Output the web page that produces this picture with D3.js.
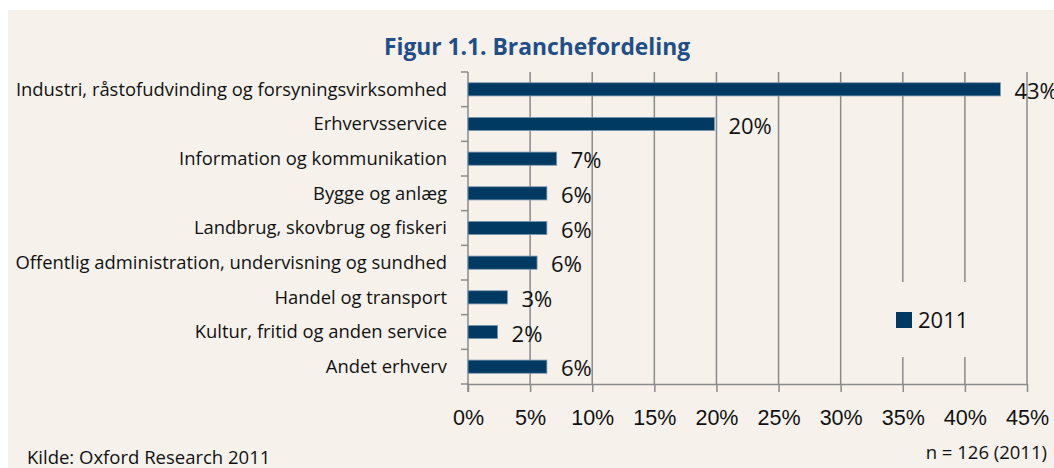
<!DOCTYPE html>
<html lang="da">
  <head>
    <meta charset="utf-8">
    <title>Figur 1.1. Branchefordeling</title>
    <script src="https://d3js.org/d3.v7.min.js"></script>
    <style type="text/css">
        html, body {
          margin: 0;
          padding: 0;
          background: #fff;
        }
        .chart svg {
            display: block;
            font-family: "Open Sans", "Noto Sans", sans-serif;
        }
        .title {
            font-weight: bold;
            fill: #1f4e88;
        }
        .axis path, .axis line, .grid line {
            stroke: #8a8a8a;
            stroke-width: 1.5;
        }
    </style>
  </head>
  <body>
    <div class="chart" id="chart"></div>

    <script>
        // data (n = 126)
        var categories = [
            "Industri, råstofudvinding og forsyningsvirksomhed",
            "Erhvervsservice",
            "Information og kommunikation",
            "Bygge og anlæg",
            "Landbrug, skovbrug og fiskeri",
            "Offentlig administration, undervisning og sundhed",
            "Handel og transport",
            "Kultur, fritid og anden service",
            "Andet erhverv"
        ];
        var values2011 = [42.86, 19.84, 7.14, 6.35, 6.35, 5.56, 3.17, 2.38, 6.35];
        var xTicks = [0, 5, 10, 15, 20, 25, 30, 35, 40, 45];
        var seriesName = "2011";

        var width = 1054, height = 468;
        var margin = {top: 72, right: 27, bottom: 84, left: 468};

        var svg = d3.select("#chart")
                    .append("svg")
                    .attr("width", width)
                    .attr("height", height);

        // beige panel
        svg.append("rect")
            .attr("x", 8).attr("y", 10)
            .attr("width", width - 8).attr("height", height - 10)
            .attr("fill", "#f6f1eb");

        svg.append("text")
            .attr("class", "title")
            .attr("x", 537).attr("y", 55)
            .attr("text-anchor", "middle")
            .style("font-size", "22.8px")
            .text("Figur 1.1. Branchefordeling");

        var x = d3.scaleLinear()
            .domain([0, 45])
            .range([margin.left, width - margin.right]);

        var y = d3.scaleBand()
            .domain(categories)
            .range([margin.top, height - margin.bottom])
            .paddingInner(0.62)
            .paddingOuter(0.31);

        // vertical grid
        svg.append("g")
            .attr("class", "grid")
            .selectAll("line")
            .data(xTicks.slice(1))
            .enter().append("line")
              .attr("x1", function(d) { return x(d); })
              .attr("x2", function(d) { return x(d); })
              .attr("y1", margin.top)
              .attr("y2", height - margin.bottom);

        // x axis
        var xAxis = svg.append("g")
            .attr("class", "axis")
            .attr("transform", "translate(0," + (height - margin.bottom) + ")")
            .call(d3.axisBottom(x)
                .tickValues(xTicks)
                .tickSize(8)
                .tickSizeOuter(0)
                .tickPadding(18)
                .tickFormat(function(d) { return d + "%"; }));
        xAxis.selectAll("text")
            .style("font-size", "21.5px")
            .attr("fill", "#111");

        // y axis: ticks sit on the band boundaries
        var plotH = height - margin.top - margin.bottom;
        var yAxis = svg.append("g").attr("class", "axis");
        yAxis.append("line")
            .attr("x1", margin.left).attr("x2", margin.left)
            .attr("y1", margin.top).attr("y2", height - margin.bottom + 8);
        yAxis.selectAll(".tick-mark")
            .data(d3.range(categories.length + 1))
            .enter().append("line")
              .attr("x1", margin.left - 7).attr("x2", margin.left)
              .attr("y1", function(i) { return margin.top + i * plotH / categories.length; })
              .attr("y2", function(i) { return margin.top + i * plotH / categories.length; });

        yAxis.selectAll(".cat")
            .data(categories)
            .enter().append("text")
              .attr("x", margin.left - 21)
              .attr("y", function(d) { return y(d) + y.bandwidth() / 2; })
              .attr("dy", "0.35em")
              .attr("text-anchor", "end")
              .attr("fill", "#111")
              .style("font-size", "18.4px")
              .text(function(d) { return d; });

        // legend box (hides the gridlines behind it)
        var legend = svg.append("g");
        legend.append("rect")
            .attr("x", 884).attr("y", 282)
            .attr("width", 130).attr("height", 75)
            .attr("fill", "#f6f1eb");
        legend.append("rect")
            .attr("x", 896).attr("y", 312)
            .attr("width", 16).attr("height", 16)
            .attr("fill", "#003a63");
        legend.append("text")
            .attr("x", 918).attr("y", 320)
            .attr("dy", "0.35em")
            .attr("fill", "#111")
            .style("font-size", "22px")
            .text(seriesName);

        // bars
        var rows = categories.map(function(c, i) { return {cat: c, value: values2011[i]}; });

        svg.append("g")
            .selectAll("rect")
            .data(rows)
            .enter().append("rect")
              .attr("x", x(0))
              .attr("y", function(d) { return y(d.cat); })
              .attr("width", function(d) { return x(d.value) - x(0); })
              .attr("height", y.bandwidth())
              .attr("fill", "#003a63")
              .attr("stroke", "#7d98b0")
              .attr("stroke-width", 0.8);

        svg.append("g")
            .selectAll("text")
            .data(rows)
            .enter().append("text")
              .attr("x", function(d) { return x(d.value) + 14; })
              .attr("y", function(d) { return y(d.cat) + y.bandwidth() / 2 + 2; })
              .attr("dy", "0.35em")
              .attr("fill", "#111")
              .style("font-size", "22px")
              .text(function(d) { return Math.round(d.value) + "%"; });

        svg.append("text")
            .attr("x", 27).attr("y", 464)
            .attr("fill", "#111")
            .style("font-size", "18.5px")
            .text("Kilde: Oxford Research 2011");

        svg.append("text")
            .attr("x", 1047).attr("y", 459)
            .attr("text-anchor", "end")
            .attr("fill", "#111")
            .style("font-size", "18.5px")
            .text("n = 126 (2011)");
    </script>
  </body>
</html>
